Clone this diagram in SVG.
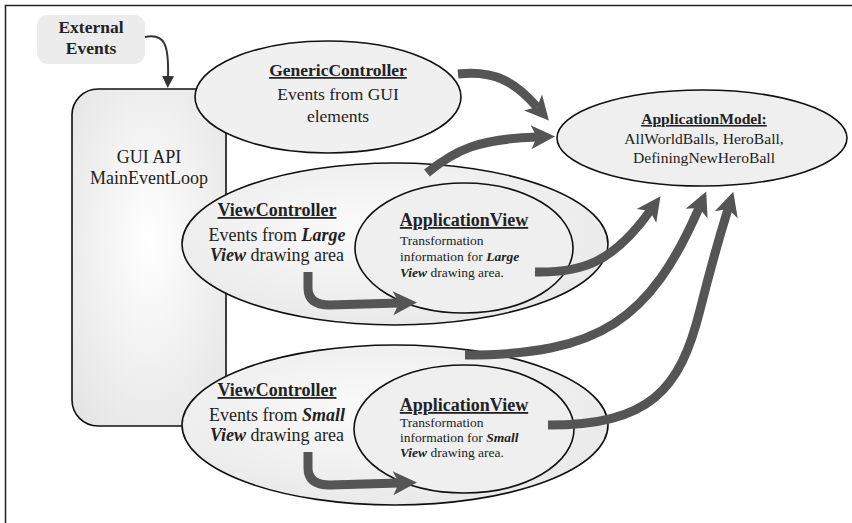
<svg xmlns="http://www.w3.org/2000/svg" width="852" height="523" viewBox="0 0 852 523">
<style>
text{font-family:"Liberation Serif","Times New Roman",serif;fill:#222}
.b{font-weight:bold}
.u{text-decoration:underline}
.bi{font-weight:bold;font-style:italic}
.shape{stroke:#111;stroke-width:1.6}
.thick{fill:none;stroke:#555;stroke-width:9;marker-end:url(#big)}
</style>
<defs>
<radialGradient id="gBox" cx="50%" cy="45%" r="70%">
<stop offset="0" stop-color="#ffffff"/>
<stop offset="1" stop-color="#e4e4e4"/>
</radialGradient>
<radialGradient id="gEl" cx="45%" cy="40%" r="65%">
<stop offset="0" stop-color="#fbfbfb"/>
<stop offset="1" stop-color="#e8e8e8"/>
</radialGradient>
<marker id="big" markerUnits="userSpaceOnUse" markerWidth="30" markerHeight="30" viewBox="-2 -14 30 28" refX="6" refY="0" orient="auto">
<path d="M0,-12 L24,0 L0,12 L6,0 z" fill="#555"/>
</marker>
<marker id="thin" markerUnits="userSpaceOnUse" markerWidth="16" markerHeight="16" viewBox="0 -8 16 16" refX="2" refY="0" orient="auto">
<path d="M0,-6 L12,0 L0,6 z" fill="#333"/>
</marker>
</defs>
<rect x="0" y="0" width="852" height="523" fill="#fff"/>
<rect x="5.5" y="5.5" width="900" height="600" fill="none" stroke="#222" stroke-width="1.5"/>

<g id="external-events">
<rect x="37" y="15" width="108" height="49" rx="11" fill="#ececec"/>
<text class="b" x="91" y="33" font-size="17.5" text-anchor="middle">External</text>
<text class="b" x="91" y="54" font-size="17.5" text-anchor="middle">Events</text>
</g>

<g id="gui-api">
<rect class="shape" x="72" y="89" width="154" height="337" rx="26" fill="url(#gBox)"/>
<text x="149" y="163" font-size="18" text-anchor="middle">GUI API</text>
<text x="149" y="184" font-size="18" text-anchor="middle">MainEventLoop</text>
</g>

<g id="generic-controller">
<ellipse class="shape" cx="328" cy="97" rx="133" ry="56" fill="#f0f0f0"/>
<text class="b u" x="338" y="76" font-size="17.5" text-anchor="middle">GenericController</text>
<text x="338" y="100" font-size="17.5" text-anchor="middle">Events from GUI</text>
<text x="338" y="122" font-size="17.5" text-anchor="middle">elements</text>
</g>

<g id="application-model">
<ellipse class="shape" cx="702" cy="138" rx="145" ry="48" fill="#efefef"/>
<text class="b u" x="704" y="124" font-size="15.6" text-anchor="middle">ApplicationModel:</text>
<text x="704" y="144" font-size="15.6" text-anchor="middle">AllWorldBalls, HeroBall,</text>
<text x="704" y="163" font-size="15.6" text-anchor="middle">DefiningNewHeroBall</text>
</g>

<g id="view-controller-large">
<ellipse class="shape" cx="395" cy="244" rx="213" ry="81" fill="url(#gEl)"/>
<text class="b u" x="277" y="216" font-size="18" text-anchor="middle">ViewController</text>
<text x="277" y="241" font-size="18" text-anchor="middle">Events from <tspan class="bi">Large</tspan></text>
<text x="277" y="261" font-size="18" text-anchor="middle"><tspan class="bi">View</tspan> drawing area</text>
</g>

<g id="application-view-large">
<ellipse class="shape" cx="464" cy="248" rx="109" ry="65" fill="#efefef"/>
<text class="b u" x="464" y="226" font-size="18" text-anchor="middle">ApplicationView</text>
<text x="400" y="245" font-size="13.5">Transformation</text>
<text x="400" y="261" font-size="13.5">information for <tspan class="bi">Large</tspan></text>
<text x="400" y="277" font-size="13.5"><tspan class="bi">View</tspan> drawing area.</text>
</g>

<g id="view-controller-small">
<ellipse class="shape" cx="395" cy="425" rx="213" ry="80" fill="url(#gEl)"/>
<text class="b u" x="277" y="396" font-size="18" text-anchor="middle">ViewController</text>
<text x="277" y="421" font-size="18" text-anchor="middle">Events from <tspan class="bi">Small</tspan></text>
<text x="277" y="441" font-size="18" text-anchor="middle"><tspan class="bi">View</tspan> drawing area</text>
</g>

<g id="application-view-small">
<ellipse class="shape" cx="464" cy="429" rx="110" ry="64" fill="#efefef"/>
<text class="b u" x="464" y="411" font-size="18" text-anchor="middle">ApplicationView</text>
<text x="400" y="427" font-size="13.5">Transformation</text>
<text x="400" y="442" font-size="13.5">information for <tspan class="bi">Small</tspan></text>
<text x="400" y="457" font-size="13.5"><tspan class="bi">View</tspan> drawing area.</text>
</g>

<g id="connectors">
<path d="M145,37 C165,33 169,45 168,78" fill="none" stroke="#333" stroke-width="2" marker-end="url(#thin)"/>
<path class="thick" d="M458,74 C495,70 515,82 537,107"/>
<path class="thick" d="M427,173 C455,150 478,139 537,137"/>
<path class="thick" d="M535,272 C580,273 612,264 650,211"/>
<path class="thick" d="M465,355 C600,355 650,320 699,208"/>
<path class="thick" d="M548,425 C650,425 680,390 700,310 C712,262 720,235 728,209"/>
<path class="thick" d="M308,272 L308,288 Q308,305 330,305 L399,303"/>
<path class="thick" d="M308,452 L308,468 Q308,485 330,485 L399,483"/>
</g>
</svg>
